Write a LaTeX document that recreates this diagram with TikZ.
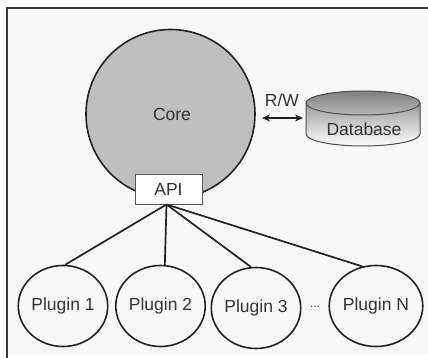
\documentclass[tikz,border=0pt]{standalone}
\usepackage{fontspec}
\setmainfont{Liberation Sans}
\usetikzlibrary{shapes.geometric,arrows.meta}
\definecolor{ink}{HTML}{222222}
\definecolor{txt}{HTML}{333333}
\definecolor{shade}{HTML}{BFBFBF}
\definecolor{paper}{HTML}{F8F8F8}
\tikzset{
  lbl/.style={font=\fontsize{17.5}{19}\selectfont, text=txt},
  plugin/.style={ellipse, draw=ink, line width=1.6pt, fill=paper,
    minimum width=83pt, minimum height=81pt, inner sep=0pt, lbl},
  wire/.style={draw=ink, line width=1.7pt},
  dbrad/.style={x radius=57pt, y radius=12pt},
}
\begin{document}
\begin{tikzpicture}[x=1pt, y=-1pt]
  \useasboundingbox (0,0) rectangle (428,358);
  % page background and frame
  \fill[white] (0,0) rectangle (428,358);
  \fill[paper] (7,8) rectangle (428,355);
  \draw[ink!90, line width=2pt] (6.5,358) -- (6.5,8) -- (428,8);

  % core and its interface
  \node[circle, draw=ink, line width=1.6pt, fill=shade, minimum size=169pt,
        inner sep=0pt] (core) at (170.5,114) {};
  \node[lbl] (coretxt) at (172,114) {Core};
  \node[draw=black!65, line width=0.9pt, fill=white, minimum width=67pt,
        minimum height=30pt, inner sep=0pt, lbl] (api) at (168.5,189) {API};

  % database drum
  \fill[shade] (306,103) -- (306,134) arc[start angle=180, end angle=360, dbrad]
    -- (420,103) arc[start angle=0, end angle=180, dbrad] -- cycle;
  \draw[black!70, line width=1pt] (306,103) -- (306,134)
    arc[start angle=180, end angle=360, dbrad] -- (420,103);
  \draw[black!70, line width=1pt] (363,103) ellipse[dbrad];
  \node[lbl] (db) at (364,129) {Database};

  % read/write link
  \coordinate (rwl) at (262,118);
  \coordinate (rwr) at (303,118);
  \draw[ink, line width=1.6pt, {Stealth[length=8pt,width=7pt]}-{Stealth[length=8pt,width=7pt]}] (rwl) -- (rwr);
  \node[lbl] (rw) at (282,100) {R/W};

  % plugins
  \node[plugin] (p1) at (63,306) {Plugin 1};
  \node[plugin] (p2) at (160.5,306) {Plugin 2};
  \node[plugin] (p3) at (256,308) {Plugin 3};
  \node[plugin] (pn) at (376,306) {Plugin N};
  \node[lbl, font=\fontsize{12}{14}\selectfont] (dots) at (315,307) {...};

  \coordinate (hub) at ([xshift=-2pt]api.south);
  \draw[wire] (hub) -- (p1.87);
  \draw[wire] (hub) -- (p2.84);
  \draw[wire] (hub) -- (p3.97);
  \draw[wire] (hub) -- (pn.109);
\end{tikzpicture}
\end{document}
